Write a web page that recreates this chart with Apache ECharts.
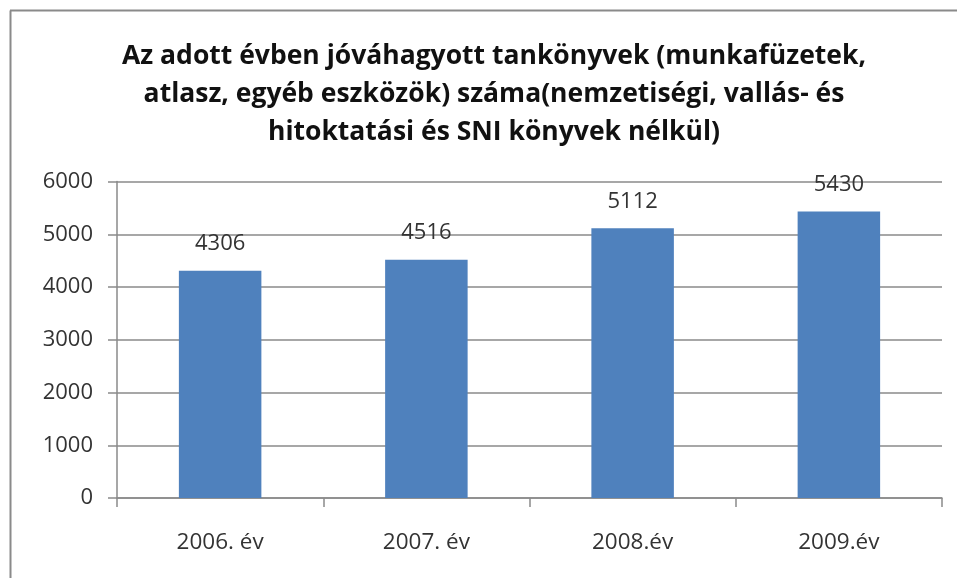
<!DOCTYPE html>
<html><head><meta charset="utf-8">
<script src="https://cdn.jsdelivr.net/npm/echarts@6/dist/echarts.min.js"></script>
<style>html,body{margin:0;padding:0;background:#fff}#c{width:957px;height:578px}</style>
</head><body><div id="c"></div>
<script>
const categories = ['2006. év', '2007. év', '2008.év', '2009.év'];
const values = [4306, 4516, 5112, 5430];
const yTicks = [0, 1000, 2000, 3000, 4000, 5000, 6000];
const titleLines = ['Az adott évben jóváhagyott tankönyvek (munkafüzetek,', 'atlasz, egyéb eszközök) száma(nemzetiségi, vallás- és', 'hitoktatási és SNI könyvek nélkül)'];

const chart = echarts.init(document.getElementById('c'));
const font = '"Open Sans", "Noto Sans", sans-serif';
chart.setOption({
  backgroundColor: '#fff',
  animation: false,
  title: {
    text: titleLines.join('\n'),
    left: 489, top: 32, textAlign: 'center',
    textStyle: { fontFamily: font, fontWeight: 'bold', fontSize: 26.5, lineHeight: 38, color: '#111' }
  },
  graphic: [
    { type: 'line', shape: { x1: 10.5, y1: 10.5, x2: 10.5, y2: 578 }, style: { stroke: '#8a8a8a', lineWidth: 2 } },
    { type: 'line', shape: { x1: 10, y1: 10.5, x2: 957, y2: 10.5 }, style: { stroke: '#8a8a8a', lineWidth: 2 } }
  ],
  grid: { left: 117, right: 15, top: 181.5, bottom: 80, containLabel: false },
  xAxis: {
    type: 'category', data: categories,
    axisLine: { lineStyle: { color: '#8a8a8a', width: 1.5 } },
    axisTick: { show: true, length: 9, alignWithLabel: false, lineStyle: { color: '#8a8a8a', width: 1.5 } },
    axisLabel: { fontFamily: font, fontSize: 22.5, color: '#333', margin: 33 }
  },
  yAxis: {
    type: 'value', min: yTicks[0], max: yTicks[yTicks.length - 1], interval: 1000,
    axisLine: { show: true, lineStyle: { color: '#8a8a8a', width: 1.5 } },
    axisTick: { show: true, length: 9, lineStyle: { color: '#8a8a8a', width: 1.5 } },
    splitLine: { lineStyle: { color: '#8a8a8a', width: 1.5 } },
    axisLabel: { fontFamily: font, fontSize: 22, color: '#333', margin: 24, formatter: v => String(v) }
  },
  series: [{
    type: 'bar', data: values, barWidth: '40%',
    itemStyle: { color: '#4F81BD' },
    label: { show: true, position: 'top', distance: 16, fontFamily: font, fontSize: 22, color: '#333' }
  }]
});
</script></body></html>
